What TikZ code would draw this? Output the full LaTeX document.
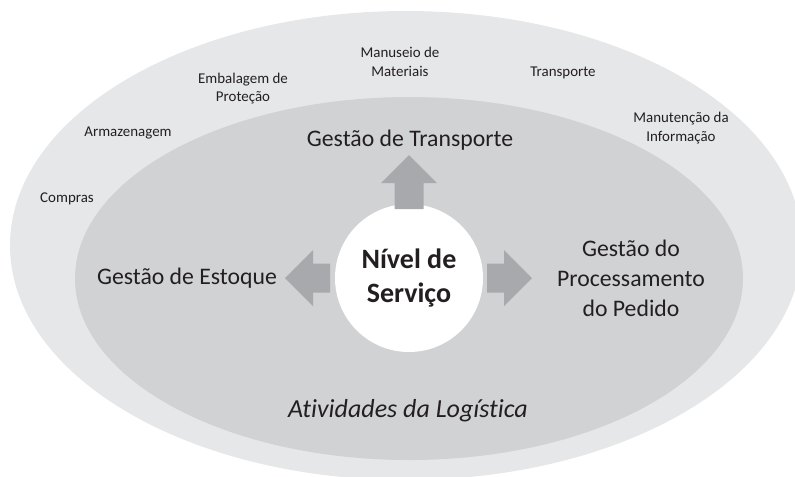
\documentclass[tikz,border=0pt]{standalone}
\usepackage{fontspec}
\setmainfont{Carlito}[Ligatures=NoCommon]
\usepackage{tikz}

\definecolor{outerGray}{RGB}{230,231,232}
\definecolor{innerGray}{RGB}{209,210,212}
\definecolor{arrowGray}{RGB}{167,169,172}
\definecolor{textDark}{RGB}{35,31,32}

\tikzset{
  smalltxt/.style={inner sep=0.75pt, align=center, text=textDark, font=\fontsize{11.2}{13.9}\selectfont},
  bigtxt/.style={inner sep=0.75pt, align=center, text=textDark, font=\fontsize{17.8}{22.5}\selectfont},
  blockarrow/.style={fill=arrowGray, draw=none},
}

\begin{document}
\begin{tikzpicture}[x=0.75pt,y=0.75pt,yscale=-1,xscale=1]
\useasboundingbox (0,0) rectangle (795,476);

%Ellipses
\fill[outerGray] (406,245.5) ellipse [x radius=396, y radius=234.5];
\fill[innerGray] (409,278.5) ellipse [x radius=334, y radius=181.5];

%Center circle
\node (nivel) [circle, fill=white, minimum size=111pt, inner sep=0pt, align=center, text=textDark, font=\fontsize{21}{25.5}\selectfont\bfseries] at (409,278) {Nível de\\Serviço};

%Block arrows
\fill[blockarrow] (394.5,209) -- (394.5,183) -- (381,183) -- (409,155) -- (437,183) -- (423.5,183) -- (423.5,209) -- cycle;
\fill[blockarrow] (330,263.5) -- (313,263.5) -- (313,250) -- (285,278) -- (313,306) -- (313,292.5) -- (330,292.5) -- cycle;
\fill[blockarrow] (487,263.5) -- (504,263.5) -- (504,250) -- (532,278) -- (504,306) -- (504,292.5) -- (487,292.5) -- cycle;

% Text Node
\node (gtransp) [bigtxt] at (410,140) {Gestão de Transporte};
% Text Node
\node (gestoque) [bigtxt] at (187,278) {Gestão de Estoque};
% Text Node
\node (gpedido) [bigtxt] at (631,278) {Gestão do\\Processamento\\do Pedido};
% Text Node
\node (ativ) [bigtxt, font=\fontsize{19.5}{24}\selectfont\itshape] at (408,411) {Atividades da Logística};

% Text Node
\node (compras) [smalltxt] at (67,199) {Compras};
% Text Node
\node (armaz) [smalltxt] at (128,133) {Armazenagem};
% Text Node
\node (embal) [smalltxt] at (243,88.5) {Embalagem de\\Proteção};
% Text Node
\node (manus) [smalltxt] at (400,62) {Manuseio de\\Materiais};
% Text Node
\node (transp) [smalltxt] at (563,73) {Transporte};
% Text Node
\node (manut) [smalltxt] at (681,128) {Manutenção da\\Informação};

\end{tikzpicture}
\end{document}
